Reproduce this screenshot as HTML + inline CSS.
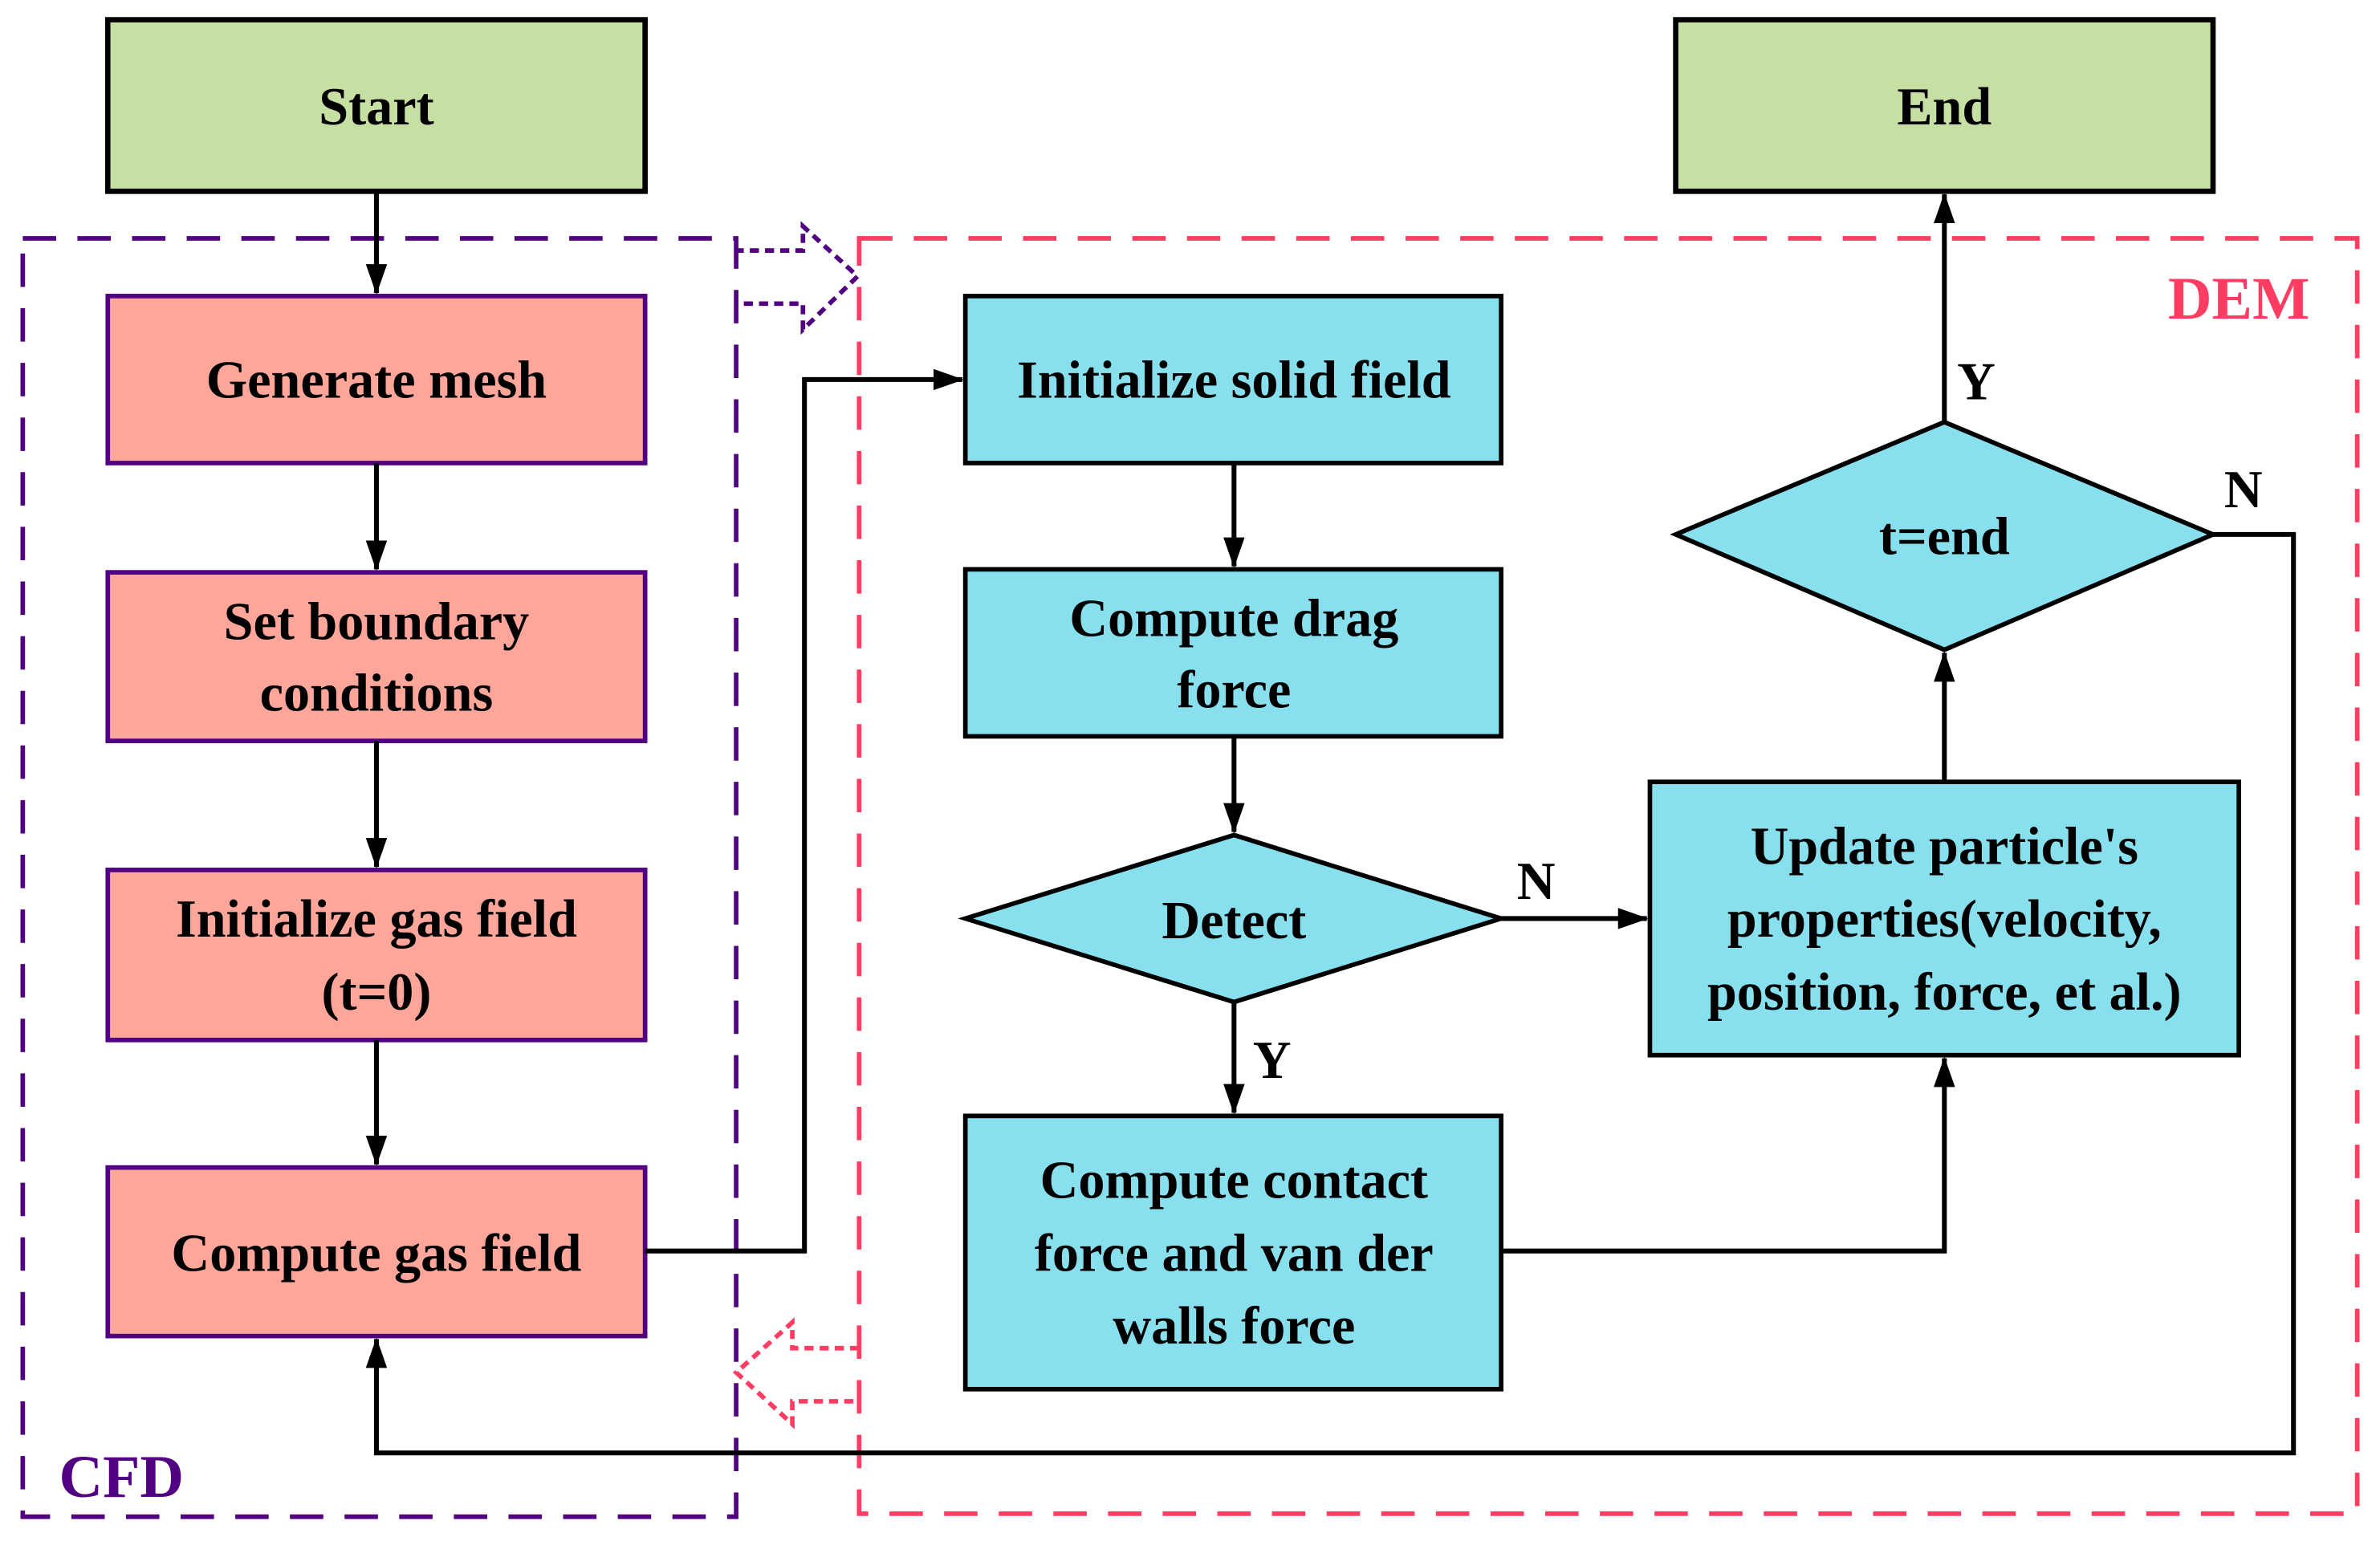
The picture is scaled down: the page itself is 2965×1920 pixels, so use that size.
<!DOCTYPE html>
<html><head><meta charset="utf-8"><style>html,body{margin:0;padding:0;background:#fff}svg{display:block}</style></head>
<body>
<svg width="2965" height="1920" viewBox="0 0 1568 1015" preserveAspectRatio="none" xmlns="http://www.w3.org/2000/svg">
<defs>
<marker id="ah" markerWidth="20" markerHeight="14" refX="19" refY="7" orient="auto" markerUnits="userSpaceOnUse" viewBox="0 0 20 14">
<path d="M0,0 L20,7 L0,14 z" fill="#000"/></marker>
</defs>
<style>
text{font-family:"Liberation Serif","Times New Roman",serif;font-weight:bold;font-size:35px;fill:#000;text-anchor:middle}
.ln{stroke:#000;stroke-width:3.2;fill:none}
</style>
<!-- group frames -->
<rect x="15" y="157" width="470" height="842" fill="none" stroke="#500080" stroke-width="3" stroke-dasharray="22,14"/>
<rect x="566" y="157" width="987" height="840" fill="none" stroke="#ff3d62" stroke-width="3" stroke-dasharray="22,14"/>
<text x="1475" y="210" style="fill:#ff3d62;font-size:40px">DEM</text>
<text x="80" y="986" style="fill:#500080;font-size:40px">CFD</text>
<!-- dotted arrows -->
<path d="M484,165 L529,165 L529,149 L565,182 L529,217 L529,200 L484,200" fill="none" stroke="#500080" stroke-width="3" stroke-dasharray="6,4"/>
<path d="M566,888 L522,888 L522,871 L485,904 L522,938 L522,923 L566,923" fill="none" stroke="#ff3d62" stroke-width="3" stroke-dasharray="6,4"/>
<!-- boxes -->
<rect x="71" y="13" width="354" height="113" fill="#c6e0a4" stroke="#000" stroke-width="3.5"/>
<text x="248" y="82">Start</text>
<rect x="1104" y="13" width="354" height="113" fill="#c6e0a4" stroke="#000" stroke-width="3.5"/>
<text x="1281" y="82">End</text>

<rect x="71" y="195" width="354" height="110" fill="#fea699" stroke="#500080" stroke-width="3"/>
<text x="248" y="262">Generate mesh</text>
<rect x="71" y="377" width="354" height="111" fill="#fea699" stroke="#500080" stroke-width="3"/>
<text x="248" y="421">Set boundary</text><text x="248" y="468">conditions</text>
<rect x="71" y="573" width="354" height="112" fill="#fea699" stroke="#500080" stroke-width="3"/>
<text x="248" y="617">Initialize gas field</text><text x="248" y="665">(t=0)</text>
<rect x="71" y="769" width="354" height="111" fill="#fea699" stroke="#500080" stroke-width="3"/>
<text x="248" y="837">Compute gas field</text>

<rect x="636" y="195" width="353" height="110" fill="#88e0ee" stroke="#000" stroke-width="3"/>
<text x="813" y="262">Initialize solid field</text>
<rect x="636" y="375" width="353" height="110" fill="#88e0ee" stroke="#000" stroke-width="3"/>
<text x="813" y="419">Compute drag</text><text x="813" y="466">force</text>
<polygon points="636,605 813,550 989,605 813,660" fill="#88e0ee" stroke="#000" stroke-width="3"/>
<text x="813" y="618">Detect</text>
<rect x="636" y="735" width="353" height="180" fill="#88e0ee" stroke="#000" stroke-width="3"/>
<text x="813" y="789">Compute contact</text><text x="813" y="837">force and van der</text><text x="813" y="885">walls force</text>
<rect x="1087" y="515" width="388" height="180" fill="#88e0ee" stroke="#000" stroke-width="3"/>
<text x="1281" y="569">Update particle's</text><text x="1281" y="617">properties(velocity,</text><text x="1281" y="665">position, force, et al.)</text>
<polygon points="1104,352 1281,278 1458,352 1281,428" fill="#88e0ee" stroke="#000" stroke-width="3"/>
<text x="1281" y="365">t=end</text>

<!-- connectors -->
<line class="ln" x1="248" y1="126" x2="248" y2="193" marker-end="url(#ah)"/>
<line class="ln" x1="248" y1="305" x2="248" y2="375" marker-end="url(#ah)"/>
<line class="ln" x1="248" y1="488" x2="248" y2="571" marker-end="url(#ah)"/>
<line class="ln" x1="248" y1="685" x2="248" y2="767" marker-end="url(#ah)"/>
<polyline class="ln" points="425,824 530,824 530,250 634,250" marker-end="url(#ah)"/>
<line class="ln" x1="813" y1="305" x2="813" y2="373" marker-end="url(#ah)"/>
<line class="ln" x1="813" y1="485" x2="813" y2="548" marker-end="url(#ah)"/>
<line class="ln" x1="813" y1="660" x2="813" y2="733" marker-end="url(#ah)"/>
<line class="ln" x1="989" y1="605" x2="1085" y2="605" marker-end="url(#ah)"/>
<polyline class="ln" points="989,824 1281,824 1281,697" marker-end="url(#ah)"/>
<line class="ln" x1="1281" y1="515" x2="1281" y2="430" marker-end="url(#ah)"/>
<line class="ln" x1="1281" y1="278" x2="1281" y2="128" marker-end="url(#ah)"/>
<polyline class="ln" points="1458,352 1511,352 1511,957 248,957 248,882" marker-end="url(#ah)"/>
<text x="1012" y="592">N</text>
<text x="838" y="710">Y</text>
<text x="1302" y="263">Y</text>
<text x="1478" y="334">N</text>
</svg>
</body></html>
